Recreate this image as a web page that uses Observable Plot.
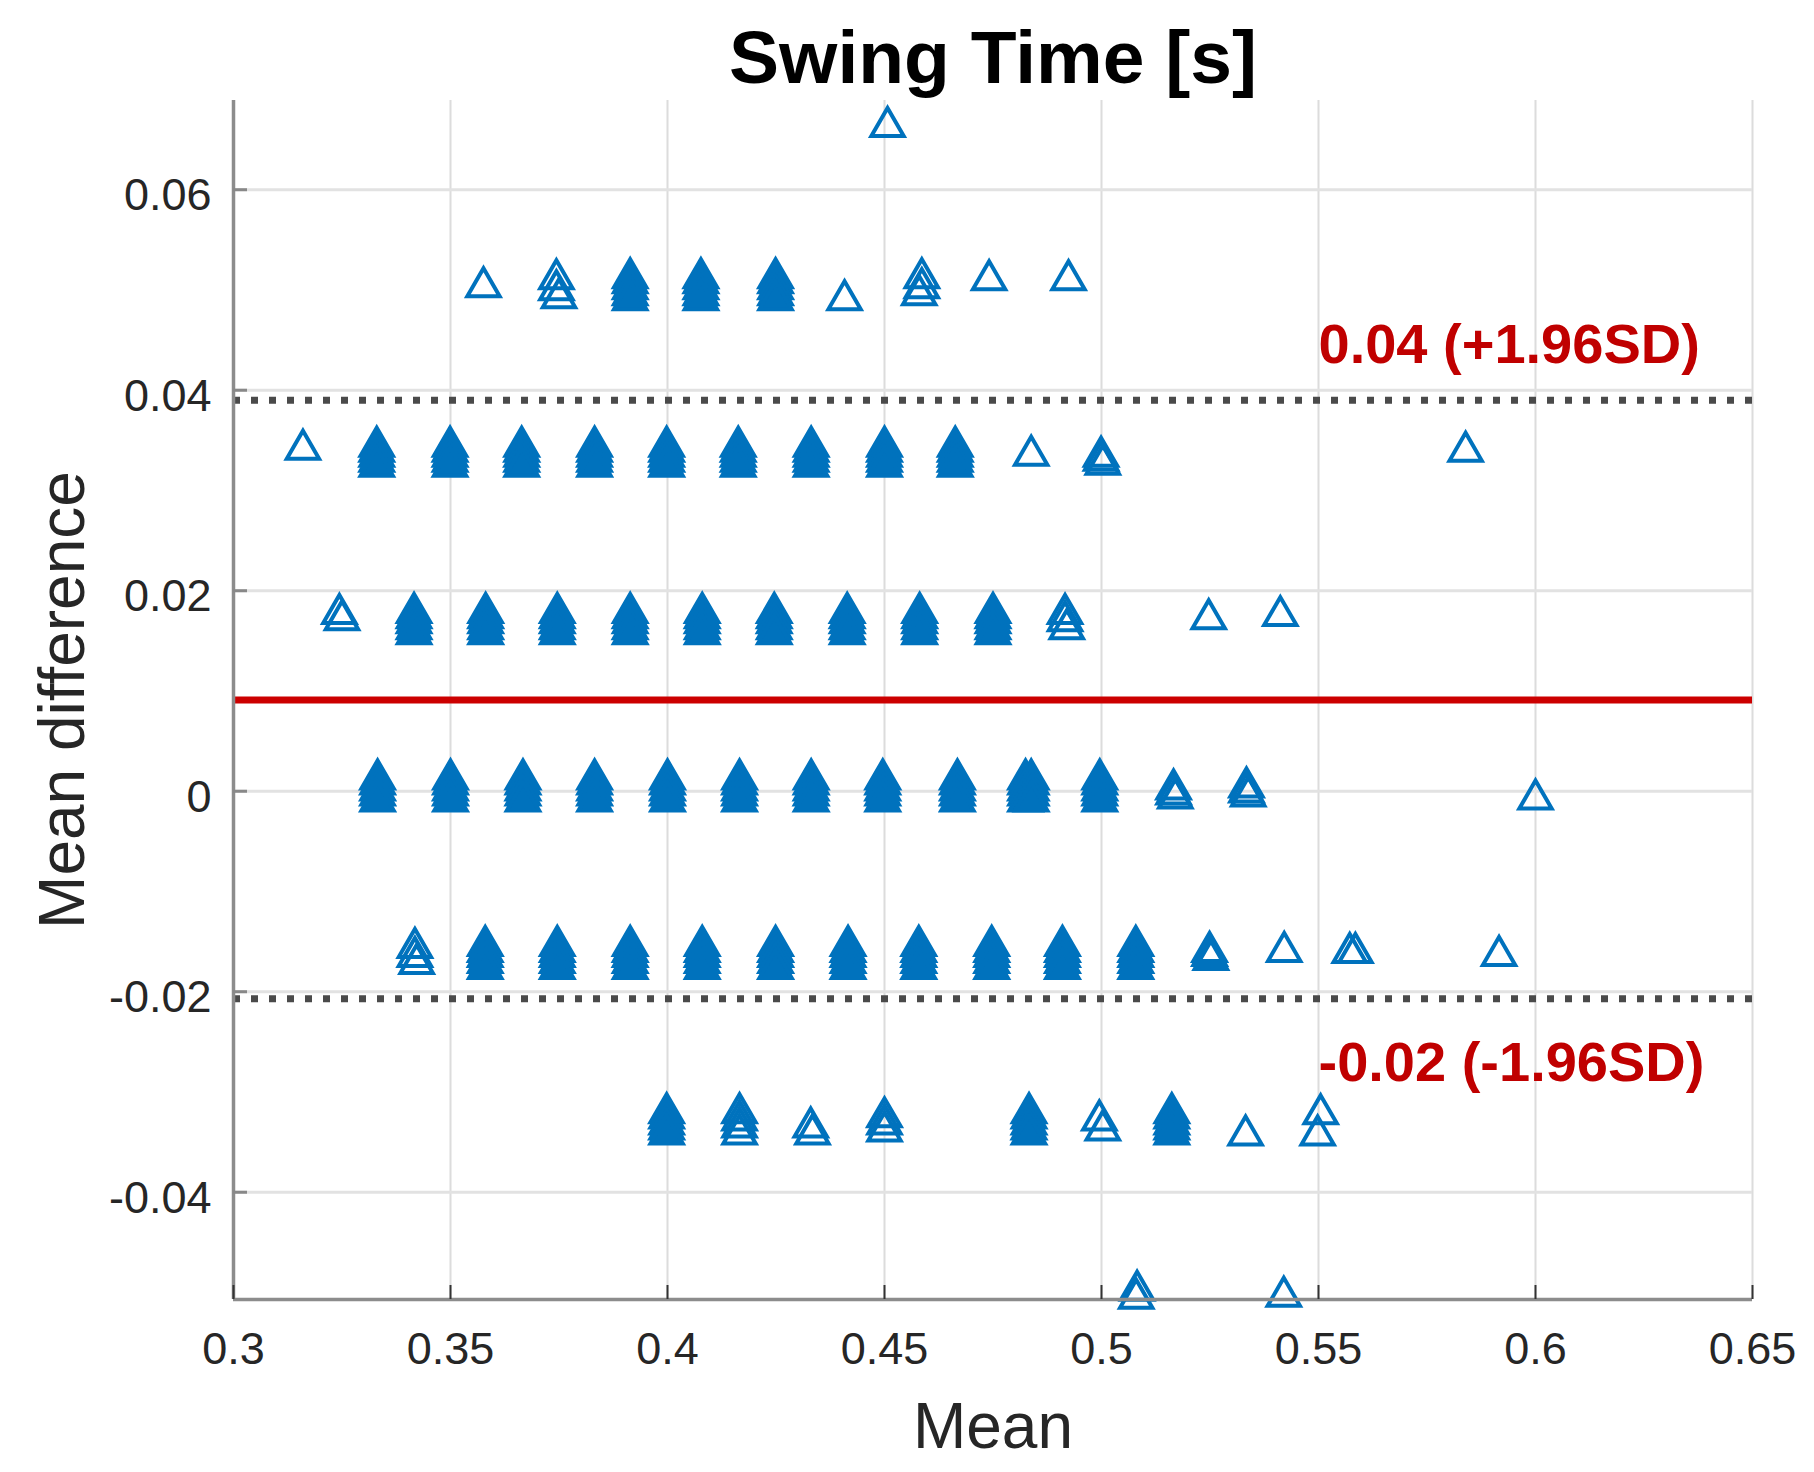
<!DOCTYPE html>
<html>
<head>
<meta charset="utf-8">
<script src="https://cdn.jsdelivr.net/npm/d3@7"></script>
<script src="https://cdn.jsdelivr.net/npm/@observablehq/plot@0.6"></script>
<style>
  html, body { margin: 0; padding: 0; background: #fff; }
  #chart svg { display: block; }
</style>
</head>
<body>
<div id="chart"></div>
<script>
// ---------- data ----------
const titleText = "Swing Time [s]";
const xLabel = "Mean";
const yLabel = "Mean difference";
const xDomain = [0.3, 0.65];
const yDomain = [-0.0507, 0.0689];
const xTicks = [0.3, 0.35, 0.4, 0.45, 0.5, 0.55, 0.6, 0.65];
const yTicks = [-0.04, -0.02, 0, 0.02, 0.04, 0.06];

const meanDiff = 0.0091;
const upperLoA = 0.0390;
const lowerLoA = -0.0207;

// stacked (overlapping) observations forming the solid clusters, per difference level
const levels50  = [0.0512, 0.0507, 0.0501, 0.0495, 0.0490];
const levels33  = [0.0344, 0.0339, 0.0334, 0.0329, 0.0324];
const levels17  = [0.0178, 0.0173, 0.0168, 0.0162, 0.0157];
const levels0   = [0.0012, 0.0007, 0.0001, -0.0004, -0.0010];
const levelsM17 = [-0.0154, -0.0160, -0.0165, -0.0171, -0.0177];
const levelsM33 = [-0.0321, -0.0326, -0.0332, -0.0337, -0.0342];

const dense50  = [0.3914, 0.4077, 0.4249];
const dense33  = [0.3330, 0.3499, 0.3664, 0.3832, 0.3998, 0.4163, 0.4331, 0.4500, 0.4663];
const dense17  = [0.3416, 0.3581, 0.3746, 0.3914, 0.4080, 0.4246, 0.4414, 0.4581, 0.4750];
const dense0   = [0.3332, 0.3500, 0.3667, 0.3832, 0.4000, 0.4166, 0.4331, 0.4496, 0.4668, 0.4825, 0.4838, 0.4996];
const denseM17 = [0.3580, 0.3746, 0.3914, 0.4080, 0.4249, 0.4416, 0.4579, 0.4747, 0.4910, 0.5079];
const denseM33 = [0.3998, 0.4833, 0.5162];

// individual (sparse) observations: mean values and differences
const openX = [
  0.4507,
  0.3576, 0.3744, 0.3744, 0.3750, 0.4408, 0.4586, 0.4586, 0.4580, 0.4741, 0.4924,
  0.3160, 0.4838, 0.4999, 0.4999, 0.5003, 0.5839,
  0.3244, 0.3250, 0.4916, 0.4916, 0.4920, 0.5247, 0.5412,
  0.5166, 0.5166, 0.5170, 0.5334, 0.5334, 0.5338, 0.6000,
  0.3418, 0.3418, 0.3422, 0.5249, 0.5249, 0.5252, 0.5421, 0.5572, 0.5585, 0.5916,
  0.4166, 0.4166, 0.4166, 0.4166, 0.4330, 0.4334, 0.4500, 0.4500, 0.4500, 0.4995, 0.5003, 0.5332, 0.5505, 0.5498,
  0.5082, 0.5080, 0.5420
];
const openY = [
  0.0663,
  0.0503, 0.0511, 0.0500, 0.0492, 0.0490, 0.0512, 0.0502, 0.0495, 0.0510, 0.0510,
  0.0341, 0.0335, 0.0334, 0.0330, 0.0326, 0.0339,
  0.0177, 0.0171, 0.0177, 0.0170, 0.0162, 0.0172, 0.0175,
  0.0002, -0.0003, -0.0007, 0.0004, -0.0001, -0.0005, -0.0008,
  -0.0156, -0.0165, -0.0172, -0.0160, -0.0164, -0.0168, -0.0160, -0.0161, -0.0161, -0.0164,
  -0.0321, -0.0328, -0.0335, -0.0342, -0.0335, -0.0342, -0.0325, -0.0332, -0.0339, -0.0328, -0.0338, -0.0343, -0.0322, -0.0343,
  -0.0498, -0.0506, -0.0504
];

// ---------- tables ----------
const denseRows = [
  [dense50, levels50], [dense33, levels33], [dense17, levels17],
  [dense0, levels0], [denseM17, levelsM17], [denseM33, levelsM33]
];
const densePts = [];
for (const [xs, ys] of denseRows) for (const x of xs) for (const y of ys) densePts.push({x, y});
const openPts = openX.map((x, i) => ({x, y: openY[i]}));

const blue = "#0072BD";
const red = "#C00000";
const fmt = d => String(d);

const chart = Plot.plot({
  width: 1814,
  height: 1472,
  marginLeft: 233,
  marginRight: 62,
  marginTop: 100,
  marginBottom: 173,
  style: {fontFamily: "'Liberation Sans', Arial, Helvetica, sans-serif", fontSize: "45px", color: "#262626", background: "#fff"},
  x: {domain: xDomain},
  y: {domain: yDomain},
  marks: [
    Plot.gridX(xTicks, {stroke: "#dcdcdc", strokeOpacity: 1, strokeWidth: 2}),
    Plot.gridY(yTicks, {stroke: "#e2e2e2", strokeOpacity: 1, strokeWidth: 3}),
    Plot.ruleY([meanDiff], {stroke: "#cc0000", strokeWidth: 7}),
    Plot.ruleY([upperLoA, lowerLoA], {stroke: "#4a4a4a", strokeWidth: 7, strokeDasharray: "7 11"}),
    Plot.dot(densePts, {x: "x", y: "y", symbol: "triangle", r: 12, fill: blue, stroke: blue, strokeWidth: 4}),
    Plot.dot(openPts, {x: "x", y: "y", symbol: "triangle", r: 12, fill: "none", stroke: blue, strokeWidth: 4}),
    Plot.text([`${upperLoA.toFixed(2)} (+1.96SD)`], {x: 0.55, y: upperLoA, dy: -37, lineAnchor: "bottom", textAnchor: "start", fill: red, fontWeight: "bold", fontSize: 56}),
    Plot.text([`${lowerLoA.toFixed(2)} (-1.96SD)`], {x: 0.55, y: lowerLoA, dy: 82, lineAnchor: "bottom", textAnchor: "start", fill: red, fontWeight: "bold", fontSize: 56}),
    // axis lines
    Plot.ruleX([xDomain[0]], {stroke: "#8c8c8c", strokeWidth: 3.5}),
    Plot.ruleY([yDomain[0]], {stroke: "#8c8c8c", strokeWidth: 3.5}),
    // inward tick marks
    Plot.ruleX(xTicks, {y1: yDomain[0], y2: yDomain[0], insetTop: -14, stroke: "#333", strokeWidth: 2}),
    Plot.ruleY(yTicks, {x1: xDomain[0], x2: xDomain[0], insetRight: -14, stroke: "#888", strokeWidth: 3}),
    // tick labels
    Plot.axisX({ticks: xTicks, tickSize: 0, tickPadding: 33, tickFormat: fmt, label: null, fontSize: 45}),
    Plot.axisY({ticks: yTicks, tickSize: 0, tickPadding: 22, tickFormat: fmt, label: null, fontSize: 45, dy: 6}),
    // titles
    Plot.text([titleText], {frameAnchor: "top", dy: -18, lineAnchor: "bottom", textAnchor: "middle", fontWeight: "bold", fontSize: 75, fill: "#000"}),
    Plot.text([xLabel], {frameAnchor: "bottom", dy: 148, lineAnchor: "bottom", textAnchor: "middle", fontSize: 64, fill: "#262626"}),
    Plot.text([yLabel], {frameAnchor: "left", dx: -150, rotate: -90, lineAnchor: "bottom", textAnchor: "middle", fontSize: 64, fill: "#262626"})
  ]
});
document.getElementById("chart").appendChild(chart);
</script>
</body>
</html>
